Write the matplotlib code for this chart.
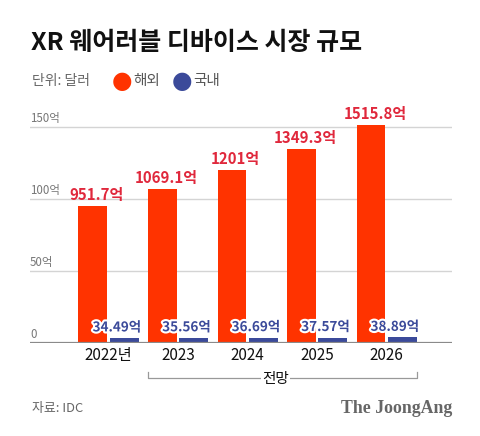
import numpy as np
import matplotlib.pyplot as plt
import matplotlib.patheffects as pe

plt.rcParams['font.family'] = ['Noto Sans CJK KR', 'DejaVu Sans']

years = ['2022년', '2023', '2024', '2025', '2026']
overseas = np.array([951.7, 1069.1, 1201, 1349.3, 1515.8])   # 억 달러
domestic = np.array([34.49, 35.56, 36.69, 37.57, 38.89])
overseas_labels = ['951.7억', '1069.1억', '1201억', '1349.3억', '1515.8억']
domestic_labels = ['34.49억', '35.56억', '36.69억', '37.57억', '38.89억']
yticks = [0, 50, 100, 150]
ytick_labels = ['0', '50억', '100억', '150억']

orange = '#ff3300'
blue = '#3b4a9a'
red_txt = '#e0283c'
gray = '#777777'

fig = plt.figure(figsize=(4.8, 4.36), dpi=100)
ax = fig.add_axes([30/480, 1 - 343/436, 422/480, 230.4/436])

x = np.arange(len(years))
w = 0.415
ax.bar(x - 0.225, overseas / 10, width=w, color=orange, zorder=2)
ax.bar(x + 0.225, domestic / 10, width=w, color=blue, zorder=2)

ax.set_xlim(-1.13, 4.94)
ax.set_ylim(0, 160)

for s in ax.spines.values():
    s.set_visible(False)
for v in yticks[1:]:
    ax.axhline(v, color='#d4d4d4', lw=1, zorder=1)
ax.axhline(0, color='#8a8a8a', lw=1.6, zorder=3)

ax.set_yticks([])
ax.set_xticks(x)
ax.set_xticklabels(years, fontsize=11, color='#111111')
ax.tick_params(axis='x', length=0, pad=3)

for v, lab in zip(yticks, ytick_labels):
    ax.text(-1.13, v + 1.5, lab, fontsize=8.3, color=gray, ha='left', va='bottom')

stroke = [pe.withStroke(linewidth=3, foreground='white')]
for i in range(len(years)):
    ax.text(x[i] - 0.17, overseas[i] / 10 + 2, overseas_labels[i], fontsize=10.8,
            fontweight='bold', color=red_txt, ha='center', va='bottom', zorder=4)
    ax.text(x[i] + 0.12, domestic[i] / 10 + 2.5, domestic_labels[i], fontsize=9.7,
            fontweight='bold', color=blue, ha='center', va='bottom', zorder=4,
            path_effects=stroke)

# bracket for forecast years
bx0, bx1, by = 1 - 0.225 - w / 2, 4 + 0.225 + w / 2, -24.3
ax.plot([bx0, bx0, bx1, bx1], [by + 4, by, by, by + 4], color='#999999', lw=0.9,
        clip_on=False)
ax.text((bx0 + bx1) / 2 - 0.1, by - 0.5, '전망', fontsize=10.5, color='#111111',
        ha='center', va='center', bbox=dict(facecolor='white', edgecolor='none', pad=1))

# header
fig.text(31/480, 1 - 43/436, 'XR 웨어러블 디바이스 시장 규모', fontsize=18,
         fontweight='bold', color='#111111', ha='left', va='center')
fig.text(32/480, 1 - 81/436, '단위: 달러', fontsize=10, color='#666666', ha='left', va='center')
fig.text(122/480, 1 - 81/436, '●', fontsize=17, color=orange, ha='center', va='center',
         family='DejaVu Sans')
fig.text(133/480, 1 - 81/436, '해외', fontsize=10.5, color='#555555', ha='left', va='center')
fig.text(182/480, 1 - 81/436, '●', fontsize=17, color=blue, ha='center', va='center',
         family='DejaVu Sans')
fig.text(193/480, 1 - 81/436, '국내', fontsize=10.5, color='#555555', ha='left', va='center')

# footer
fig.text(32/480, 1 - 408/436, '자료: IDC', fontsize=9.3, color='#666666', ha='left', va='center')
fig.text(452/480, 1 - 408/436, 'The JoongAng', fontsize=12.8, fontweight='bold',
         color='#666666', ha='right', va='center', family='Liberation Serif')

fig.savefig('out.png', dpi=100)
